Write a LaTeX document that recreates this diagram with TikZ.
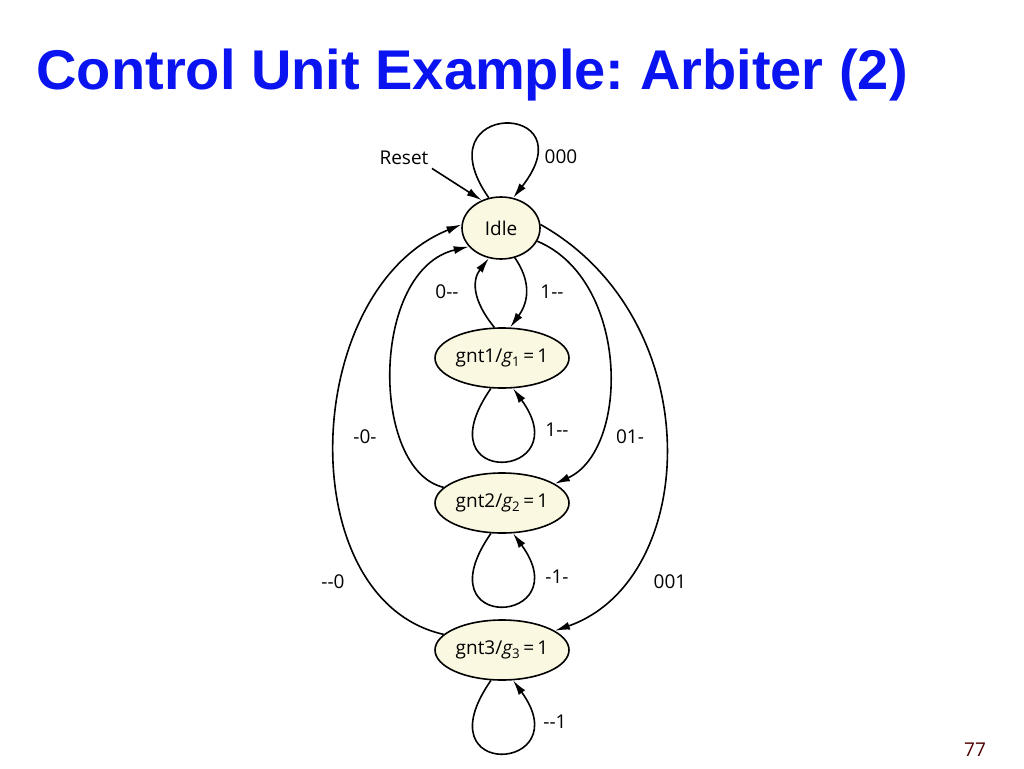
\documentclass[tikz,border=0pt]{standalone}
\usepackage{fontspec}
\setmainfont{Open Sans}
\newfontfamily\titlefont{Liberation Sans}
\usetikzlibrary{shapes.geometric,arrows.meta}
\definecolor{stfill}{HTML}{FAF8E0}
\definecolor{ttlblue}{HTML}{0A14F0}
\frenchspacing
\newcommand{\gnt}[1]{gnt#1/{\itshape g}\textsubscript{#1}\,=\,1}
\begin{document}
\begin{tikzpicture}[x=1pt,y=-1pt,
            state/.style={shape=ellipse, draw, line width=1.6pt, fill=stfill, inner sep=0pt},
            trans/.style={line width=1.6pt,-{Latex[length=15pt,width=8pt]}},
            lbl/.style={font=\fontsize{19}{21}\selectfont}]
        \useasboundingbox (0,0) rectangle (1024,768);
        \node[font=\titlefont\bfseries\fontsize{56}{60}\selectfont,text=ttlblue,anchor=west] (title) at (33,75) {Control Unit Example: Arbiter (2)};
        \node[font=\fontsize{19}{21}\selectfont,text=black!70!red] (pg) at (975,750) {77};

        \node[state,minimum width=78pt,minimum height=62pt,lbl] (idle) at (501,228) {Idle};
        \node[state,minimum width=134pt,minimum height=60pt,lbl] (g1) at (502,358) {\gnt{1}};
        \node[state,minimum width=134pt,minimum height=60pt,lbl] (g2) at (502,503) {\gnt{2}};
        \node[state,minimum width=134pt,minimum height=60pt,lbl] (g3) at (502,650) {\gnt{3}};

        \node[lbl] (reset) at (404,158) {Reset};
        \draw[trans] (reset.south east) -- (idle.125);

        % self loops
        \draw[trans] (idle.112) .. controls (420,100) and (590,100) .. (idle.68);
        \draw[trans] (g1.-110) .. controls (420,490) and (580,480) .. (g1.-70);
        \draw[trans] (g2.-110) .. controls (420,635) and (580,625) .. (g2.-70);
        \draw[trans] (g3.-110) .. controls (420,782) and (580,772) .. (g3.-70);

        % to and from idle
        \draw[trans] (idle.-65) .. controls (530,280) and (530,300) .. (g1.75);
        \draw[trans] (g1.104) .. controls (472,300) and (472,280) .. (idle.-112);
        \draw[trans] (g2.165) .. controls (370,470) and (370,270) .. (idle.-150);
        \draw[trans] (idle.-20) .. controls (630,280) and (630,450) .. (g2.20);
        \draw[trans] (g3.165) .. controls (290,600) and (300,290) .. (idle.175);
        \draw[trans] (idle.5) .. controls (710,320) and (700,580) .. (g3.20);

        \node[lbl] (l000) at (561,157) {000};
        \node[lbl] (l1a) at (552,292) {1{-}{-}};
        \node[lbl] (l0a) at (447,292) {0{-}{-}};
        \node[lbl] (l1b) at (557,430) {1{-}{-}};
        \node[lbl] (l0b) at (365,437) {-0-};
        \node[lbl] (l01) at (630,437) {01-};
        \node[lbl] (l1c) at (557,577) {-1-};
        \node[lbl] (l0c) at (333,582) {{-}{-}0};
        \node[lbl] (l001) at (670,582) {001};
        \node[lbl] (l1d) at (555,722) {{-}{-}1};
\end{tikzpicture}
\end{document}
